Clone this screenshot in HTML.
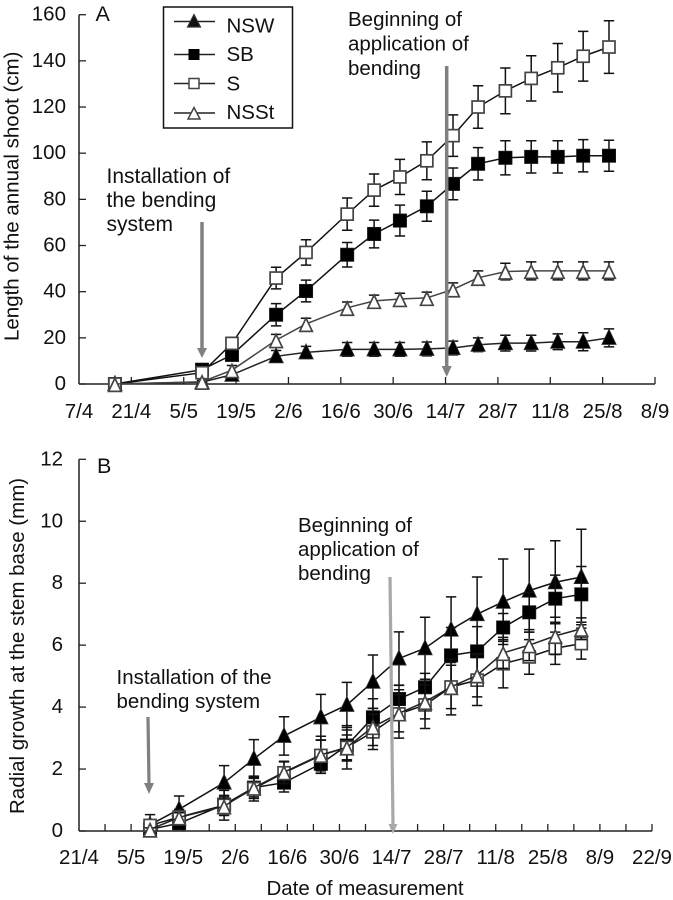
<!DOCTYPE html>
<html lang="en">
<head>
<meta charset="utf-8">
<title>Annual shoot length and radial growth</title>
<style>
html,body{margin:0;padding:0;background:#fff;}
svg{display:block;filter:blur(0.3px);}
text{font-family:"Liberation Sans",Arial,sans-serif;font-size:20.5px;fill:#111;}
</style>
</head>
<body>
<svg id="chart" width="673" height="900" viewBox="0 0 673 900" xmlns="http://www.w3.org/2000/svg">
  <g id="panelA"></g>
  <g id="panelB"></g>

  <text x="95.5" y="21" style="font-size:21.5px">A</text>
  <text x="97" y="473" style="font-size:21.5px">B</text>
  <text transform="translate(18.5,341) rotate(-90)">Length of the annual shoot (cm)</text>
  <text transform="translate(24,814) rotate(-90)">Radial growth at the stem base (mm)</text>
  <text x="365" y="895" text-anchor="middle">Date of measurement</text>

  <g style="font-size:21px">
    <text x="106.5" y="183" style="font-size:21px">Installation of</text>
    <text x="106.5" y="207" style="font-size:21px">the bending</text>
    <text x="106.5" y="231" style="font-size:21px">system</text>
  </g>
  <g>
    <text x="348" y="26">Beginning of</text>
    <text x="348" y="50.5">application of</text>
    <text x="348" y="75">bending</text>
  </g>
  <g>
    <text x="116.5" y="684">Installation of the</text>
    <text x="116.5" y="708">bending system</text>
  </g>
  <g>
    <text x="298" y="532">Beginning of</text>
    <text x="298" y="556">application of</text>
    <text x="298" y="580">bending</text>
  </g>

  <g>
    <line x1="202" y1="222" x2="202" y2="350" stroke="#808080" stroke-width="3.5"/>
    <polygon points="197,348 207,348 202,358" fill="#808080"/>
  </g>
  <g>
    <line x1="446.7" y1="66" x2="446.7" y2="368" stroke="#808080" stroke-width="3.5"/>
    <polygon points="441.7,366 451.7,366 446.7,377" fill="#808080"/>
  </g>
  <g>
    <line x1="148" y1="717" x2="149" y2="785" stroke="#808080" stroke-width="3.2"/>
    <polygon points="144,783 154,783 149,794" fill="#808080"/>
  </g>
  <g>
    <line x1="390" y1="577" x2="393" y2="826" stroke="#a8a8a8" stroke-width="3.2"/>
    <polygon points="388.5,824 397.5,824 393,834" fill="#a8a8a8"/>
  </g>

  <g>
    <rect x="163.5" y="7" width="129" height="121" fill="#fff" stroke="#111" stroke-width="1.5"/>
    <g>
      <line x1="174" y1="21.5" x2="215" y2="21.5" stroke="#222" stroke-width="1.5"/>
      <polygon points="194,14.5 200.5,27 187.5,27" fill="#111" stroke="#333" stroke-width="1.2"/>
      <text x="226.5" y="32.5">NSW</text>
    </g>
    <g>
      <line x1="174" y1="54.5" x2="215" y2="54.5" stroke="#222" stroke-width="1.5"/>
      <rect x="188.5" y="49" width="11" height="11" fill="#000"/>
      <text x="226.5" y="61">SB</text>
    </g>
    <g>
      <line x1="174" y1="83.5" x2="215" y2="83.5" stroke="#222" stroke-width="1.5"/>
      <rect x="189" y="78.5" width="10" height="10" fill="#fff" stroke="#444" stroke-width="1.5"/>
      <text x="226.5" y="90.5">S</text>
    </g>
    <g>
      <line x1="174" y1="113" x2="215" y2="113" stroke="#222" stroke-width="1.5"/>
      <polygon points="194,107.5 200,119 188,119" fill="#fff" stroke="#444" stroke-width="1.5"/>
      <text x="226.5" y="119">NSSt</text>
    </g>
  </g>
</svg>

<script>
// Panel A data: days after 7/4, shoot length (cm), SE
var daysA = [9.6,32.9,40.9,52.7,60.7,71.7,78.9,85.8,93,100,106.7,114,120.9,128,134.8,141.7];
var nswA  = [0,0.8,4,12,13.7,15,15,15,15.2,15.6,17,17.7,17.7,18.3,18.3,20];
var sbA   = [0,6.2,12.6,30,40.3,56,65,70.8,77,86.7,95.4,98,98.4,98.4,98.9,98.9];
var sA    = [0,4.9,17.6,45.9,57,73.6,84,89.7,96.7,107.6,120,127,132.4,137,142,146];
var nsstA = [0,1,6,19,26,33,36,36.8,37.3,41,46,48.7,49,49,49,49];
var nswErrA  = [0,0.3,1,2.5,2.6,3,3,3,3,3,3,3.4,3.4,3.4,3.9,3.9];
var sbErrA   = [0,1,2,4.8,4.7,5.3,6,6.7,6.5,6.9,7,7.4,7,7,7,6.7];
var sErrA    = [0,1,2,4.7,5.5,7,7,7.6,8.2,9,9.2,9.9,9.8,10.5,10.8,11.4];
var nsstErrA = [0,0.5,2,2.5,2.5,2.5,2.5,2.5,2.5,2.8,3,3.6,3.9,3.9,3.9,3.9];
var xLabelsA = ['7/4','21/4','5/5','19/5','2/6','16/6','30/6','14/7','28/7','11/8','25/8','8/9'];
var yLabelsA = [0,20,40,60,80,100,120,140,160];

// Panel B data: days after 21/4, radial growth (mm), SE
var daysB = [19.1,26.9,39,47,55.1,65,72,79,86,93,100,107,114,121,128,135];
var nswB  = [0.2,0.7,1.56,2.33,3.07,3.67,4.07,4.82,5.57,5.9,6.5,7,7.4,7.76,8.03,8.2];
var sbB   = [0.05,0.25,0.85,1.4,1.56,2.17,2.76,3.67,4.26,4.64,5.67,5.8,6.57,7.06,7.5,7.64];
var sB    = [0.18,0.45,0.83,1.37,1.88,2.44,2.7,3.2,3.78,4.07,4.65,4.87,5.4,5.62,5.9,6.05];
var nsstB = [0.05,0.44,0.8,1.4,1.9,2.46,2.7,3.36,3.8,4.17,4.65,5.03,5.75,6,6.3,6.53];
var nswErrB  = [0.1,0.43,0.55,0.62,0.62,0.74,0.73,0.86,0.86,1,1.06,1.2,1.38,1.34,1.34,1.54];
var sbErrB   = [0.05,0.15,0.3,0.35,0.3,0.3,0.5,0.6,0.44,0.45,0.9,0.8,0.45,0.64,0.76,0.9];
var sErrB    = [0.35,0.25,0.48,0.4,0.35,0.5,0.7,0.57,0.78,0.76,0.9,0.82,0.78,0.56,0.52,0.5];
var nsstErrB = [0.05,0.15,0.3,0.3,0.35,0.6,0.4,0.6,0.6,0.55,0.7,0.7,0.5,0.5,0.6,0.35];
var xLabelsB = ['21/4','5/5','19/5','2/6','16/6','30/6','14/7','28/7','11/8','25/8','8/9','22/9'];
var yLabelsB = [0,2,4,6,8,10,12];

var NS = 'http://www.w3.org/2000/svg';
function make(parent, tag, attrs) {
  var el = document.createElementNS(NS, tag);
  for (var k in attrs) { el.setAttribute(k, attrs[k]); }
  parent.appendChild(el);
  return el;
}

function drawAxes(parent, key, xOf, yOf, xLabels, yLabels, xStepDays, tickEvery, labelBase, yLabelX) {
  var x0 = xOf(0);
  var y0 = yOf(0);
  var yMax = yLabels[yLabels.length - 1];
  var xEnd = xOf((xLabels.length - 1) * 14);

  var xAxis = make(parent, 'line', {x1:x0, y1:y0, x2:xEnd, y2:y0, stroke:'#222', 'stroke-width':1.5});
  
  

  var yAxis = make(parent, 'line', {x1:x0, y1:y0, x2:x0, y2:yOf(yMax), stroke:'#222', 'stroke-width':1.5});
  
  

  for (var d = tickEvery; d <= (xLabels.length - 1) * 14; d += tickEvery) {
    var xt = make(parent, 'line', {x1:xOf(d), y1:y0, x2:xOf(d), y2:y0 - 7, stroke:'#222', 'stroke-width':1.3});
    
    
  }
  xLabels.forEach(function (lab, i) {
    var t = make(parent, 'text', {x:xOf(i * xStepDays), y:labelBase, 'text-anchor':'middle'});
    
    
    t.textContent = lab;
  });
  yLabels.forEach(function (v) {
    var yt = make(parent, 'line', {x1:x0, y1:yOf(v), x2:x0 + 7, y2:yOf(v), stroke:'#222', 'stroke-width':1.3});
    
    
    var t = make(parent, 'text', {x:yLabelX, y:yOf(v) + 6, 'text-anchor':'end'});
    
    
    t.textContent = v;
  });
}

function drawSeries(parent, key, name, shape, filled, lineColor, days, vals, errs, xOf, yOf) {
  var g = make(parent, 'g', {});
  
  

  days.forEach(function (d, i) {
    var x = xOf(d);
    var top = yOf(vals[i] + errs[i]);
    var bot = yOf(vals[i] - errs[i]);
    if (bot - top < 1) { return; }
    var p = 'M' + x + ' ' + top + 'V' + bot + 'M' + (x - 5.2) + ' ' + top + 'H' + (x + 5.2) + 'M' + (x - 5.2) + ' ' + bot + 'H' + (x + 5.2);
    var eb = make(g, 'path', {d:p, fill:'none', stroke:'#111', 'stroke-width':1.5});
    
    
  });

  var pts = days.map(function (d, i) { return xOf(d) + ',' + yOf(vals[i]); }).join(' ');
  var line = make(g, 'polyline', {points:pts, fill:'none', stroke:lineColor, 'stroke-width':1.5});
  
  

  days.forEach(function (d, i) {
    var x = xOf(d);
    var y = yOf(vals[i]);
    var m;
    if (shape === 'square') {
      var size = filled ? 13.4 : 12;
      m = make(g, 'rect', {x:x - size / 2, y:y - size / 2, width:size, height:size,
        fill:filled ? '#000' : '#fff', stroke:filled ? '#222' : '#444', 'stroke-width':filled ? 0.6 : 1.7});
    } else if (filled) {
      m = make(g, 'polygon', {points:x + ',' + (y - 8.5) + ' ' + (x + 7.2) + ',' + (y + 6.6) + ' ' + (x - 7.2) + ',' + (y + 6.6),
        fill:'#000', stroke:'#333', 'stroke-width':0.8});
    } else {
      m = make(g, 'polygon', {points:x + ',' + (y - 5.8) + ' ' + (x + 6.3) + ',' + (y + 7.4) + ' ' + (x - 6.3) + ',' + (y + 7.4),
        fill:'#fff', stroke:'#444', 'stroke-width':1.7});
    }
    
    
  });
}

var xScaleA = function (d) { return 79 + d * 576 / 154; };
var yScaleA = function (v) { return 384 - v * 369.3 / 160; };
var xScaleB = function (d) { return 79 + d * 573 / 154; };
var yScaleB = function (v) { return 831 - v * 371.7 / 12; };

var panelA = document.getElementById('panelA');
var panelB = document.getElementById('panelB');

drawAxes(panelA, 'panel-a', xScaleA, yScaleA, xLabelsA, yLabelsA, 14, 14, 418, 66);
drawSeries(panelA, 'panel-a', 'nsw',  'triangle', true,  '#222', daysA, nswA,  nswErrA,  xScaleA, yScaleA);
drawSeries(panelA, 'panel-a', 'sb',   'square',   true,  '#111', daysA, sbA,   sbErrA,   xScaleA, yScaleA);
drawSeries(panelA, 'panel-a', 's',    'square',   false, '#111', daysA, sA,    sErrA,    xScaleA, yScaleA);
drawSeries(panelA, 'panel-a', 'nsst', 'triangle', false, '#444', daysA, nsstA, nsstErrA, xScaleA, yScaleA);

drawAxes(panelB, 'panel-b', xScaleB, yScaleB, xLabelsB, yLabelsB, 14, 7, 864, 63);
drawSeries(panelB, 'panel-b', 'nsw',  'triangle', true,  '#111', daysB, nswB,  nswErrB,  xScaleB, yScaleB);
drawSeries(panelB, 'panel-b', 'sb',   'square',   true,  '#111', daysB, sbB,   sbErrB,   xScaleB, yScaleB);
drawSeries(panelB, 'panel-b', 's',    'square',   false, '#111', daysB, sB,    sErrB,    xScaleB, yScaleB);
drawSeries(panelB, 'panel-b', 'nsst', 'triangle', false, '#222', daysB, nsstB, nsstErrB, xScaleB, yScaleB);
</script>
</body>
</html>
